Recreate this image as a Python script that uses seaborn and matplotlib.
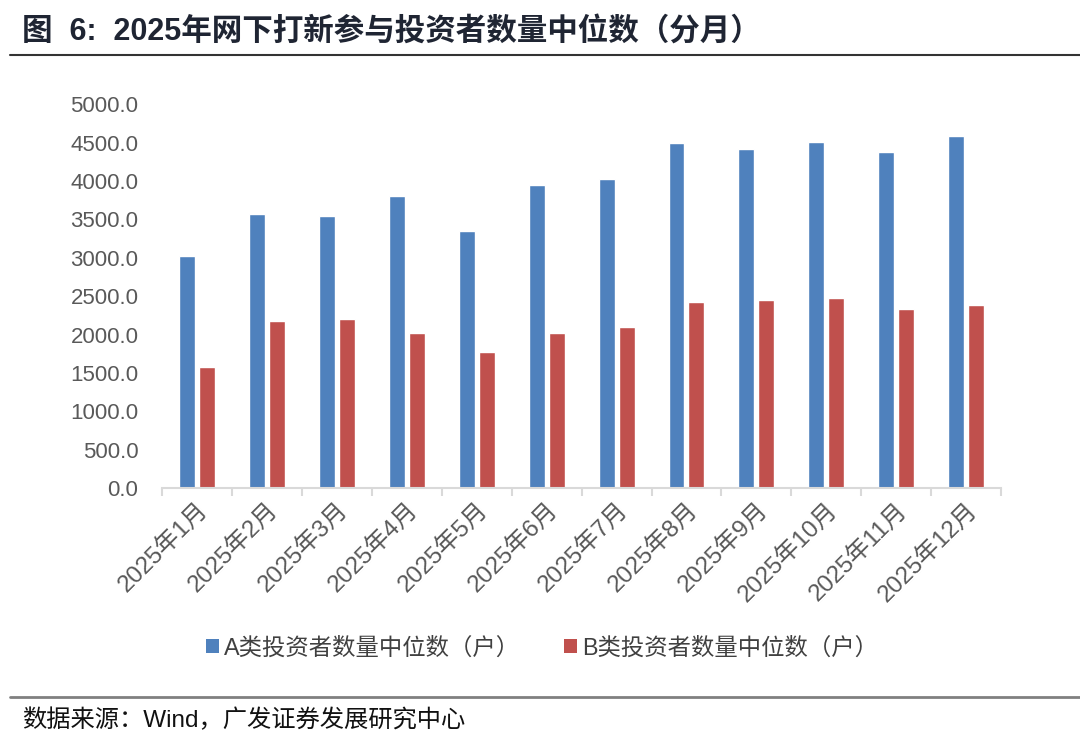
import numpy as np
import pandas as pd
import matplotlib
matplotlib.use("Agg")
import matplotlib.pyplot as plt
import seaborn as sns
from matplotlib.lines import Line2D
from matplotlib.patches import Patch

# data
months = ["2025年1月", "2025年2月", "2025年3月", "2025年4月", "2025年5月", "2025年6月",
          "2025年7月", "2025年8月", "2025年9月", "2025年10月", "2025年11月", "2025年12月"]
a_counts = [3021, 3564, 3546, 3802, 3346, 3945, 4023, 4496, 4414, 4514, 4375, 4592]
b_counts = [1576, 2174, 2197, 2018, 1771, 2018, 2096, 2426, 2448, 2470, 2327, 2383]
series_names = ["A类投资者数量中位数（户）", "B类投资者数量中位数（户）"]
colors = ["#4F81BD", "#C0504D"]

title = "图  6:  2025年网下打新参与投资者数量中位数（分月）"
source = "数据来源：Wind，广发证券发展研究中心"

df = pd.DataFrame({
    "month": months * 2,
    "value": a_counts + b_counts,
    "series": [series_names[0]] * len(months) + [series_names[1]] * len(months),
})

sns.set_theme(style="white")
plt.rcParams['font.family'] = ['Liberation Sans', 'Noto Sans CJK SC', 'DejaVu Sans']

fig = plt.figure(figsize=(10.8, 7.45), dpi=100)
ax = fig.add_axes([0.15, 0.345, 0.777, 0.515])

sns.barplot(data=df, x="month", y="value", hue="series", palette=colors,
            width=0.571, gap=0.2, ax=ax, legend=False, saturation=1)

ax.set_ylim(0, 5000)
ax.set_xlim(-0.5, len(months) - 0.5)
ax.set_yticks(np.arange(0, 5001, 500))
ax.set_yticklabels([f"{v:.1f}" for v in np.arange(0, 5001, 500)], fontsize=16, color="#595959")
ax.set_xticks(range(len(months)))
ax.set_xticklabels(months, rotation=45, ha="right", rotation_mode="anchor",
                   fontsize=17.5, color="#595959")
ax.set_xticks(np.arange(-0.5, len(months), 1), minor=True)
ax.tick_params(axis="x", which="major", length=0, pad=8)
ax.tick_params(axis="x", which="minor", length=6, width=1.5, color="#D9D9D9", bottom=True)
ax.tick_params(axis="y", length=0, pad=17)
ax.set_xlabel("")
ax.set_ylabel("")
for side in ["top", "right", "left"]:
    ax.spines[side].set_visible(False)
ax.spines["bottom"].set_color("#D9D9D9")
ax.spines["bottom"].set_linewidth(1.5)

handles = [Patch(facecolor=c, edgecolor="none") for c in colors]
fig.legend(handles, series_names, loc="center", bbox_to_anchor=(0.502, 1 - 648 / 745),
           ncol=2, frameon=False, fontsize=16.8, handlelength=0.55, handleheight=0.55,
           handletextpad=0.2, columnspacing=1.9, labelcolor="#404040")

# title, rules and source note
fig.text(22 / 1080, 1 - 32 / 745, title, fontsize=22, fontweight="bold",
         color="#1F2533", va="center", ha="left")
fig.add_artist(Line2D([10 / 1080, 1.0], [1 - 55 / 745] * 2, color="#333333", lw=1.5))
fig.add_artist(Line2D([10 / 1080, 1.0], [1 - 697 / 745] * 2, color="#808080", lw=2))
fig.text(22 / 1080, 1 - 720 / 745, source, fontsize=17.5, color="#111111",
         va="center", ha="left")

fig.savefig("out.png", dpi=100)
plt.close(fig)
